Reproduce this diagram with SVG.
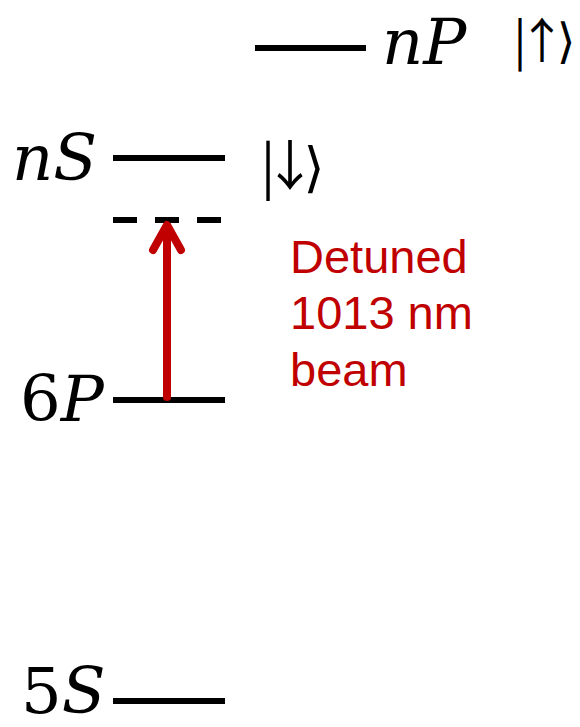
<svg xmlns="http://www.w3.org/2000/svg" width="580" height="727" viewBox="0 0 580 727">
<style>
.lvl{stroke:#000;stroke-width:6;fill:none}
.math{font-family:"DejaVu Serif",serif;font-style:italic;font-size:64px;fill:#000}
.up{font-style:normal}
.ket{font-family:"Noto Sans CJK SC","DejaVu Sans",sans-serif;fill:#000;text-anchor:middle}
.red{font-family:"Liberation Sans",Arial,sans-serif;font-size:47px;fill:#C00000}
.beam{stroke:#C00000;stroke-width:8;fill:none;stroke-linecap:round;stroke-linejoin:round}
</style>
<rect width="580" height="727" fill="#fff"/>
<g id="nP">
<line class="lvl" x1="255" y1="48" x2="366" y2="48"/>
<text class="math" x="382" y="64">nP</text>
<text class="ket" font-size="48" x="520 542 566" y="58">|↑⟩</text>
</g>
<g id="nS">
<line class="lvl" x1="113" y1="158" x2="225" y2="158"/>
<text class="math" x="12" y="180">nS</text>
<text class="ket" font-size="54" x="268 290 314" y="186">|↓⟩</text>
</g>
<g id="virtual">
<line class="lvl" x1="113" y1="220" x2="221" y2="220" stroke-dasharray="24 18"/>
</g>
<g id="6P">
<line class="lvl" x1="113" y1="400" x2="225" y2="400"/>
<text class="math" x="20" y="421"><tspan class="up">6</tspan>P</text>
</g>
<g id="5S">
<line class="lvl" x1="113" y1="701" x2="225" y2="701"/>
<text class="math" x="21" y="713" font-size="61"><tspan class="up">5</tspan>S</text>
</g>
<g id="connectors">
<line class="beam" x1="167" y1="397" x2="167" y2="228" stroke-linecap="butt"/>
<polyline class="beam" points="153,250 167,225 181,250"/>
</g>
<g id="label">
<text class="red" x="290" y="273">Detuned</text>
<text class="red" x="290" y="329">1013 nm</text>
<text class="red" x="290" y="386">beam</text>
</g>
</svg>
